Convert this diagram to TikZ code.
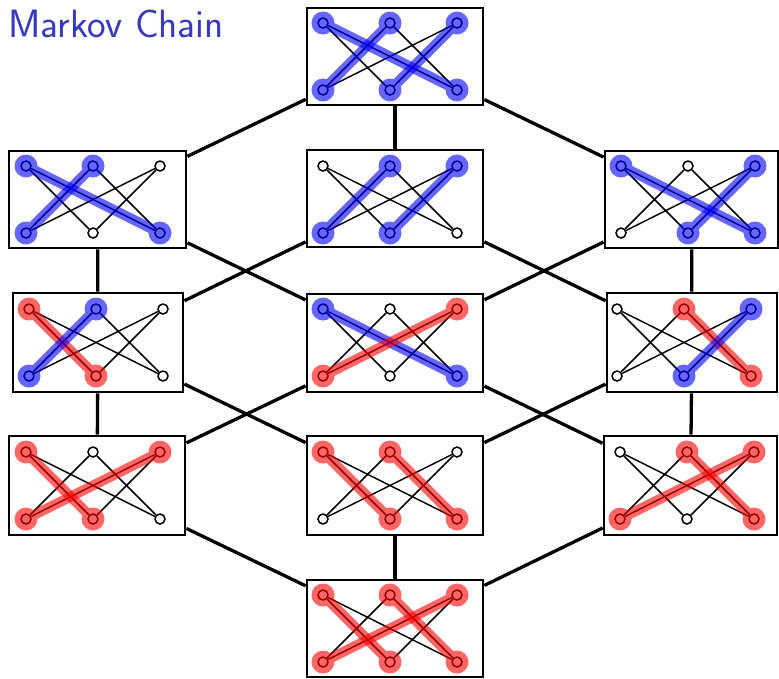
\documentclass[tikz,border=0pt]{standalone}
\definecolor{titleblue}{RGB}{55,55,195}
\tikzset{
  statebox/.style={rectangle, draw, fill=white, line width=2.8pt, inner sep=0pt},
  vert/.style={circle, draw, fill=white, line width=1.5pt, inner sep=0pt, minimum size=10pt},
  pairedge/.style={line width=1.5pt},
  link/.style={line width=3.3pt},
}
% #1 name, #2-#5 left/top/right/bottom of the frame,
% #6,#7 position of the first upper vertex, #8 highlighted pairs top/bottom/colour
\newcommand\chainstate[8]{%
  \node[statebox, minimum width={(#4-#2)*1pt}, minimum height={(#5-#3)*1pt}]
    (#1) at ({(#2+#4)/2},{(#3+#5)/2}) {};
  \foreach \i in {1,2,3} {
    \node[vert] (#1-t\i) at ({#6+67*(\i-1)},#7) {};
    \node[vert] (#1-b\i) at ({#6+67*(\i-1)},{#7+67}) {};
  }
  \foreach \i in {1,2,3} {
    \foreach \j in {1,2,3} {
      \ifnum\i=\j\else \draw[pairedge] (#1-t\i) -- (#1-b\j);\fi
    }
  }
  \foreach \a/\b/\c in {#8} {
    \begin{scope}[transparency group, opacity=0.6]
      \draw[line width=10pt, \c] (#1-t\a.center) -- (#1-b\b.center);
      \fill[\c] (#1-t\a.center) circle (11.5pt);
      \fill[\c] (#1-b\b.center) circle (11.5pt);
    \end{scope}
  }
}
\begin{document}
\begin{tikzpicture}[x=1pt, y=-1pt]
\useasboundingbox (0,0) rectangle (779,678);

\node[anchor=base west, inner sep=0pt, text=titleblue,
      font=\sffamily\fontsize{39.5}{44}\selectfont] (title) at (8,37) {Markov Chain};

\chainstate{top}{307}{8}{483}{105}{323}{23}{1/3/blue,2/1/blue,3/2/blue}
\chainstate{l2}{9}{151}{186}{248}{26}{166}{1/3/blue,2/1/blue}
\chainstate{c2}{307}{150}{483}{247}{323}{166}{2/1/blue,3/2/blue}
\chainstate{r2}{605}{151}{778}{248}{621}{166}{1/3/blue,3/2/blue}
\chainstate{l3}{13}{293}{183}{392}{29}{309}{1/2/red,2/1/blue}
\chainstate{c3}{307}{294}{483}{392}{323}{309}{1/3/blue,3/1/red}
\chainstate{r3}{607}{293}{777}{392}{617}{309}{2/3/red,3/2/blue}
\chainstate{l4}{9}{436}{185}{535}{26}{452}{1/2/red,3/1/red}
\chainstate{c4}{307}{436}{483}{535}{323}{452}{1/2/red,2/3/red}
\chainstate{r4}{604}{436}{777}{535}{620}{452}{2/3/red,3/1/red}
\chainstate{bot}{307}{580}{483}{677}{323}{595}{1/2/red,2/3/red,3/1/red}

\draw[link] (top) -- (l2);
\draw[link] (top) -- (c2);
\draw[link] (top) -- (r2);
\draw[link] (l2) -- (l3);
\draw[link] (l2) -- (c3);
\draw[link] (c2) -- (l3);
\draw[link] (c2) -- (r3);
\draw[link] (r2) -- (c3);
\draw[link] (r2) -- (r3);
\draw[link] (l3) -- (l4);
\draw[link] (l3) -- (c4);
\draw[link] (c3) -- (l4);
\draw[link] (c3) -- (r4);
\draw[link] (r3) -- (c4);
\draw[link] (r3) -- (r4);
\draw[link] (l4) -- (bot);
\draw[link] (c4) -- (bot);
\draw[link] (r4) -- (bot);
\end{tikzpicture}
\end{document}
